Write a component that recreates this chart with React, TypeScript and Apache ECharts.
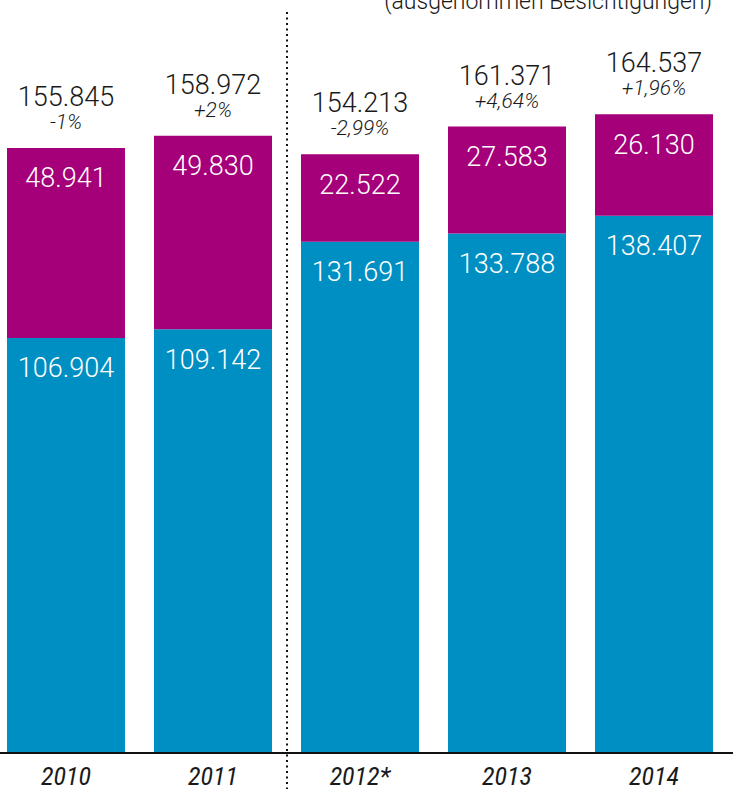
import React, { useEffect, useRef } from "react";
import * as echarts from "echarts";

const categories = ["2010", "2011", "2012*", "2013", "2014"];
const blueValues = [106904, 109142, 131691, 133788, 138407];
const magentaValues = [48941, 49830, 22522, 27583, 26130];
const totals = [155845, 158972, 154213, 161371, 164537];
const changes = ["-1%", "+2%", "-2,99%", "+4,64%", "+1,96%"];
const subtitle = "(ausgenommen Besichtigungen)";

const BLUE = "#008FC3";
const MAGENTA = "#A5007A";
const FONT = "Roboto, 'Noto Sans', sans-serif";

const fmt = (v: number) => String(v).replace(/\B(?=(\d{3})+(?!\d))/g, ".");

export default function App() {
  const ref = useRef<HTMLDivElement>(null);
  useEffect(() => {
    const chart = echarts.init(ref.current!, null, { renderer: "svg" });
    chart.setOption({
      animation: false,
      backgroundColor: "#ffffff",
      grid: {
        left: -7.5,
        width: 735,
        top: 54.2,
        bottom: 36,
        containLabel: false,
        outerBoundsMode: "none",
      },
      xAxis: {
        type: "category",
        data: categories,
        axisLine: { show: false },
        axisTick: { show: false },
        axisLabel: {
          margin: 12,
          fontSize: 26,
          lineHeight: 22,
          fontStyle: "italic",
          fontFamily: "'Liberation Sans Narrow', 'Roboto Condensed', Roboto, sans-serif",
          color: "#1a1a1a",
        },
      },
      yAxis: {
        type: "value",
        min: 0,
        max: 180000,
        show: false,
        splitLine: { show: false },
      },
      series: [
        {
          type: "bar",
          stack: "a",
          data: blueValues,
          barWidth: 118,
          itemStyle: { color: BLUE },
          label: {
            show: true,
            position: "insideTop",
            distance: 17,
            color: "#ffffff",
            fontSize: 27,
            fontWeight: 300,
            fontFamily: FONT,
            formatter: (p: any) => fmt(p.value),
          },
        },
        {
          type: "bar",
          stack: "a",
          data: magentaValues,
          barWidth: 118,
          itemStyle: { color: MAGENTA },
          label: {
            show: true,
            position: "insideTop",
            distance: 17,
            color: "#ffffff",
            fontSize: 27,
            fontWeight: 300,
            fontFamily: FONT,
            formatter: (p: any) => fmt(p.value),
          },
        },
        {
          type: "bar",
          stack: "a",
          data: totals.map(() => 0),
          barWidth: 118,
          itemStyle: { color: "transparent" },
          silent: true,
          label: {
            show: true,
            position: "top",
            distance: 15,
            formatter: (p: any) =>
              `{a|${fmt(totals[p.dataIndex])}}\n{b|${changes[p.dataIndex]}}`,
            rich: {
              a: { fontSize: 27, fontWeight: 300, fontFamily: FONT, color: "#1a1a1a", lineHeight: 28, align: "center" },
              b: { fontSize: 21, fontStyle: "italic", fontWeight: 300, fontFamily: FONT, color: "#1a1a1a", lineHeight: 22, align: "center" },
            },
          },
        },
      ],
      graphic: [
        {
          type: "line",
          shape: { x1: 0, y1: 753, x2: 733, y2: 753 },
          style: { stroke: "#111111", lineWidth: 2 },
          z: 10,
        },
        {
          type: "line",
          shape: { x1: 287, y1: 12, x2: 287, y2: 789 },
          style: { stroke: "#111111", lineWidth: 2, lineDash: [2, 3.5] },
          z: 10,
        },
        {
          type: "text",
          right: 21,
          top: -10,
          style: { text: subtitle, fontSize: 23, fontWeight: 300, fontFamily: FONT, fill: "#1a1a1a" },
        },
      ],
    });
    return () => chart.dispose();
  }, []);
  return (
    <div
      ref={ref}
      style={{ position: "fixed", left: 0, top: 0, width: 733, height: 789 }}
    />
  );
}
